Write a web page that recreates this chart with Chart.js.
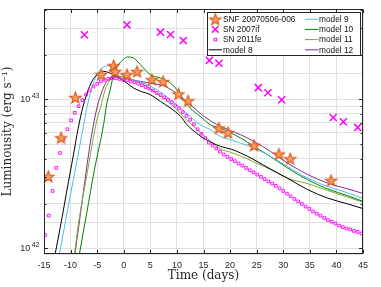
<!DOCTYPE html>
<html><head><meta charset="utf-8">
<script src="https://cdn.jsdelivr.net/npm/chart.js@4/dist/chart.umd.min.js"></script>
<style>html,body{margin:0;padding:0;background:#fff}canvas{display:block}</style>
</head><body>
<canvas id="c" width="381" height="287"></canvas>
<script>
// Luminosities in units of 1e42 erg/s, time in days
const seriesLabels = ['SNF 20070506-006','SN 2007if','SN 2011fe','model 8','model 9','model 10','model 11','model 12'];

const snfDays = [-14.2,-11.8,-9.1,-4.25,-1.9,-1.6,0.6,2.5,5.3,7.4,10.3,12.1,17.9,19.6,24.5,29.2,31.3,39.0];
const snfLum  = [3.04,5.53,10.3,14.7,16.9,15.4,14.7,15.4,13.6,13.2,10.9,9.8,6.42,6.0,4.91,4.3,4.0,2.86];

const sn07ifDays = [-7.4,0.6,6.9,8.8,11.2,16.1,17.9,25.3,27.1,29.7,39.4,41.3,44.0];
const sn07ifLum  = [27.2,31.7,28.3,27.3,24.9,18.3,17.5,12.0,11.1,9.95,7.56,7.08,6.49];

const sn11feDays = [-14.8,-14.1,-13.4,-12.7,-12.0,-11.3,-10.6,-9.9,-9.2,-8.5,-7.8,-7.1,-6.4,-5.7,-5.0,-4.3,-3.6,-2.9,-2.2,-1.5,-0.8,-0.1,0.6,1.3,2.0,2.7,3.4,4.1,4.8,5.5,6.2,6.9,7.6,8.3,9.0,9.7,10.4,11.1,11.8,12.5,13.2,13.9,14.6,15.3,16.0,16.7,17.4,18.1,18.8,19.5,20.2,20.9,21.6,22.3,23.0,23.7,24.4,25.1,25.8,26.5,27.2,27.9,28.6,29.3,30.0,30.7,31.4,32.1,32.8,33.5,34.2,34.9,35.6,36.3,37.0,37.7,38.4,39.1,39.8,40.5,41.2,41.9,42.6,43.3,44.0,44.7];
const sn11feLum  = [1.23,1.66,2.43,3.47,4.37,5.43,6.31,7.24,8.13,9.02,9.89,10.76,11.48,12.22,12.74,13.24,13.55,13.77,13.90,13.87,13.74,13.55,13.43,13.21,13.03,12.79,12.47,12.13,11.83,11.48,11.09,10.72,10.33,9.95,9.57,9.12,8.71,8.22,7.76,7.31,6.81,6.31,5.89,5.50,5.13,4.90,4.68,4.47,4.27,4.12,3.98,3.85,3.72,3.60,3.47,3.35,3.24,3.13,3.02,2.92,2.82,2.73,2.63,2.53,2.43,2.33,2.24,2.15,2.07,1.99,1.91,1.84,1.77,1.71,1.66,1.60,1.55,1.51,1.47,1.42,1.39,1.36,1.34,1.31,1.29,1.26];

const model8Days = [-13.3,-12.0,-10.4,-9.2,-8.8,-7.9,-6.9,-6.0,-5.05,-3.8,-2.55,-1.3,0.6,1.85,3.1,5.0,6.9,8.8,10.7,11.9,12.9,15.0,18.2,20.1,22.0,24.5,27.6,30.8,34.6,38.3,42.1,45.0];
const model8Lum  = [0.776,1.35,2.80,4.79,5.8,8.3,11.04,13.2,14.66,15.42,15.03,14.26,12.88,11.94,11.38,10.76,9.70,8.75,7.69,6.76,6.27,5.50,4.84,4.65,4.37,3.94,3.41,2.96,2.48,2.18,1.99,1.85];

const model9Days = [-12.5,-10.0,-8.8,-7.7,-6.95,-6.0,-5.05,-4.1,-3.2,-2.2,-1.3,0.0,1.2,3.7,6.3,8.8,10.7,12.5,14.4,16.3,18.2,20.1,22.0,24.5,27.6,30.8,34.6,38.3,42.1,45.0];
const model9Lum  = [0.776,2.31,3.89,6.27,8.75,11.94,14.66,16.26,16.83,16.48,15.42,14.42,13.80,12.88,11.61,9.95,8.75,7.69,6.76,6.27,5.65,5.37,5.09,4.72,4.14,3.55,2.96,2.61,2.36,2.16];

const model10Days = [-8.7,-7.0,-5.5,-3.8,-3.2,-2.55,-1.9,-1.0,0.0,0.7,1.85,3.1,5.0,6.9,8.8,10.0,11.3,12.5,14.4,16.3,18.2,20.1,22.0,24.5,27.6,30.8,34.6,38.3,42.1,45.0];
const model10Lum  = [0.776,1.70,3.39,6.76,9.33,11.61,14.66,17.10,18.66,19.28,18.97,17.18,14.66,13.93,12.88,11.61,9.95,8.75,7.69,6.76,6.43,5.96,5.51,4.84,4.14,3.47,2.89,2.51,2.26,2.07];

const model11Days = [-9.5,-8.5,-7.0,-5.05,-4.4,-3.5,-2.55,-1.6,-0.35,1.2,3.1,5.0,8.8,12.5,16.3,18.2,20.1,22.0,24.5,27.6,30.8,34.6,38.3,42.1,45.0];
const model11Lum  = [0.776,1.48,3.02,7.31,8.75,11.61,13.55,14.26,14.26,13.71,13.0,11.75,9.33,6.92,5.25,4.65,4.42,4.17,3.80,3.39,2.96,2.72,2.45,2.21,2.04];

const model12Days = [-9.45,-8.0,-6.5,-5.8,-5.05,-4.1,-3.2,-1.9,-0.65,1.2,3.1,5.0,7.5,9.4,11.3,12.9,15.1,17.6,20.1,22.0,24.5,27.6,30.8,34.6,38.3,42.1,45.0];
const model12Lum  = [0.776,1.86,4.57,6.46,8.75,11.32,13.21,14.13,14.26,13.65,13.24,12.88,12.36,11.32,9.95,8.97,7.69,6.76,6.17,5.79,5.22,4.48,3.74,3.13,2.75,2.51,2.34];

const xTickValues = [-15,-10,-5,0,5,10,15,20,25,30,35,40,45];
const yMajorValues = [1, 10];
const yMajorBase = ['10','10'];
const yMajorExp = ['42','43'];
const yMinorValues = [2,3,4,5,6,7,8,9,20,30,40];

const pts = (xs, ys) => xs.map((x, i) => ({x, y: ys[i]}));

function makeStar(r, fill, stroke) {
  const size = Math.ceil(r * 2 + 3);
  const c = document.createElement('canvas');
  c.width = c.height = size;
  const g = c.getContext('2d');
  const cx = size / 2, cy = size / 2 + 0.5, ri = r * 0.42;
  g.beginPath();
  for (let k = 0; k < 10; k++) {
    const a = -Math.PI / 2 + k * Math.PI / 5;
    const rr = k % 2 ? ri : r;
    g.lineTo(cx + rr * Math.cos(a), cy + rr * Math.sin(a));
  }
  g.closePath();
  g.fillStyle = fill; g.fill();
  g.lineWidth = 1.1; g.strokeStyle = stroke; g.stroke();
  return c;
}
const starImg = makeStar(6.0, '#F3A260', '#D95319');

const C = {
  snf: '#D95319', mag: '#FF00FF',
  m8: '#000000', m9: '#4DBEEE', m10: '#008000', m11: '#77AC30', m12: '#7E2F8E',
  axis: '#262626', grid: '#e1e1e1'
};

function lineDs(label, xs, ys, color) {
  return { label, data: pts(xs, ys), showLine: true, borderColor: color, backgroundColor: color,
    borderWidth: 1, pointRadius: 0, cubicInterpolationMode: 'monotone', fill: false };
}

const decor = {
  id: 'decor',
  afterDraw(chart) {
    const {ctx, chartArea: a, scales: {x, y}} = chart;
    const L = Math.round(a.left) + 0.5, R = Math.round(a.right) - 0.5;
    const T = Math.round(a.top) + 0.5, B = Math.round(a.bottom) - 0.5;
    ctx.save();
    ctx.strokeStyle = C.axis; ctx.lineWidth = 1;
    ctx.strokeRect(L, T, R - L, B - T);
    ctx.beginPath();
    xTickValues.forEach(v => {
      const px = Math.round(x.getPixelForValue(v)) + 0.5;
      ctx.moveTo(px, B); ctx.lineTo(px, B - 3.5);
      ctx.moveTo(px, T); ctx.lineTo(px, T + 3.5);
    });
    yMajorValues.concat(yMinorValues).forEach(v => {
      const len = yMajorValues.includes(v) ? 3.5 : 2;
      const py = Math.round(y.getPixelForValue(v)) + 0.5;
      ctx.moveTo(L, py); ctx.lineTo(L + len, py);
      ctx.moveTo(R, py); ctx.lineTo(R - len, py);
    });
    ctx.stroke();

    // y tick labels with superscript exponents
    ctx.fillStyle = C.axis;
    ctx.textBaseline = 'middle';
    yMajorValues.forEach((v, i) => {
      const py = y.getPixelForValue(v);
      ctx.font = '7px "Liberation Sans", Arial, sans-serif';
      ctx.textAlign = 'right';
      const ew = ctx.measureText(yMajorExp[i]).width;
      ctx.fillText(yMajorExp[i], 39.5, py - 3.5);
      ctx.font = '9px "Liberation Sans", Arial, sans-serif';
      ctx.fillText(yMajorBase[i], 39.5 - ew - 1.5, py + 0.5);
    });

    // legend
    const bx0 = 207.5, by0 = 12.5, bx1 = 360.5, by1 = 55.5;
    ctx.fillStyle = '#fff';
    ctx.fillRect(bx0, by0, bx1 - bx0, by1 - by0);
    ctx.strokeStyle = C.axis;
    ctx.strokeRect(bx0, by0, bx1 - bx0, by1 - by0);
    const rows = [19.2, 29.4, 39.6, 49.8];
    ctx.font = '8.3px "Liberation Sans", Arial, sans-serif';
    ctx.textAlign = 'left';
    ctx.textBaseline = 'middle';
    const ds = chart.data.datasets;
    // left column
    ctx.drawImage(starImg, 215.3 - starImg.width / 2, rows[0] - starImg.height / 2);
    ctx.strokeStyle = C.mag; ctx.lineWidth = 1.5;
    ctx.beginPath();
    ctx.moveTo(212, rows[1] - 3.2); ctx.lineTo(218.5, rows[1] + 3.2);
    ctx.moveTo(218.5, rows[1] - 3.2); ctx.lineTo(212, rows[1] + 3.2);
    ctx.stroke();
    ctx.lineWidth = 0.9;
    ctx.strokeRect(214, rows[2] - 1.3, 2.6, 2.6);
    ctx.strokeStyle = C.m8; ctx.lineWidth = 1;
    ctx.beginPath(); ctx.moveTo(208.5, rows[3]); ctx.lineTo(222, rows[3]); ctx.stroke();
    ctx.fillStyle = '#111';
    for (let i = 0; i < 4; i++) ctx.fillText(ds[i].label, 223, rows[i] + 0.5);
    // right column
    for (let i = 0; i < 4; i++) {
      const d = ds[4 + i];
      ctx.strokeStyle = d.borderColor; ctx.lineWidth = 1;
      ctx.beginPath(); ctx.moveTo(305, rows[i]); ctx.lineTo(318.5, rows[i]); ctx.stroke();
      ctx.fillText(d.label, 319, rows[i] + 0.5);
    }
    ctx.restore();
  }
};

new Chart(document.getElementById('c'), {
  type: 'scatter',
  data: {
    datasets: [
      { label: seriesLabels[0], data: pts(snfDays, snfLum), pointStyle: starImg, pointRadius: 6, showLine: false },
      { label: seriesLabels[1], data: pts(sn07ifDays, sn07ifLum), pointStyle: 'crossRot', pointRadius: 5,
        borderColor: C.mag, backgroundColor: C.mag, pointBorderWidth: 1.5, showLine: false },
      { label: seriesLabels[2], data: pts(sn11feDays, sn11feLum), pointStyle: 'rect', pointRadius: 1.9,
        borderColor: C.mag, backgroundColor: 'rgba(255,255,255,0)', pointBorderWidth: 0.9, showLine: false },
      lineDs(seriesLabels[3], model8Days, model8Lum, C.m8),
      lineDs(seriesLabels[4], model9Days, model9Lum, C.m9),
      lineDs(seriesLabels[5], model10Days, model10Lum, C.m10),
      lineDs(seriesLabels[6], model11Days, model11Lum, C.m11),
      lineDs(seriesLabels[7], model12Days, model12Lum, C.m12)
    ]
  },
  options: {
    responsive: false,
    animation: false,
    devicePixelRatio: 1,
    layout: { padding: { top: 9, right: 18, left: 0, bottom: 0 } },
    plugins: { legend: { display: false }, tooltip: { enabled: false } },
    scales: {
      x: {
        type: 'linear', min: -15, max: 45,
        afterFit: s => { s.height = 33; },
        ticks: { stepSize: 5, padding: 6.5, color: C.axis, font: { family: '"Liberation Sans", Arial, sans-serif', size: 9 } },
        grid: { color: C.grid, drawTicks: false },
        border: { display: false },
        title: { display: true, text: 'Time (days)', color: C.axis, padding: { top: 0, bottom: 4 },
          font: { family: '"DejaVu Serif", serif', size: 12 } }
      },
      y: {
        type: 'logarithmic', min: 0.917, max: 4.05 * 10,
        afterFit: s => { s.width = 44; },
        ticks: { display: false, autoSkip: false },
        grid: { color: C.grid, drawTicks: false },
        border: { display: false },
        title: { display: true, text: 'Luminousity (erg s\u207B\u00B9)', color: C.axis, padding: { top: 1, bottom: 0 },
          font: { family: '"DejaVu Serif", serif', size: 12 } }
      }
    }
  },
  plugins: [decor]
});
</script>
</body></html>
